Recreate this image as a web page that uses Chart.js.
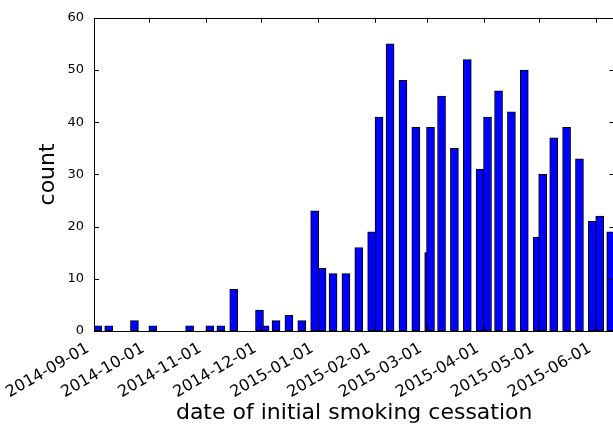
<!DOCTYPE html>
<html>
<head>
<meta charset="utf-8">
<script src="https://cdn.jsdelivr.net/npm/chart.js@4.4.1/dist/chart.umd.min.js"></script>
<style>
    html, body { margin: 0; padding: 0; overflow: hidden; background: #fff; }
    #wrap { width: 616px; height: 424px; position: relative; }
</style>
</head>
<body>
<div id="wrap"><canvas id="chart" width="616" height="424"></canvas></div>
<script>
// ── data: one bar per bin (1st, 7th, 14th, 21st, 28th) ──
const binDates = [
    '2014-09-01','2014-09-07','2014-09-21',
    '2014-10-01','2014-10-21',
    '2014-11-01','2014-11-07','2014-11-14','2014-11-28',
    '2014-12-01','2014-12-07','2014-12-14','2014-12-21','2014-12-28',
    '2015-01-01','2015-01-07','2015-01-14','2015-01-21','2015-01-28',
    '2015-02-01','2015-02-07','2015-02-14','2015-02-21','2015-02-28',
    '2015-03-01','2015-03-07','2015-03-14','2015-03-21','2015-03-28',
    '2015-04-01','2015-04-07','2015-04-14','2015-04-21','2015-04-28',
    '2015-05-01','2015-05-07','2015-05-14','2015-05-21','2015-05-28',
    '2015-06-01','2015-06-07'
];
const counts = [
    1, 1, 2,
    1, 1,
    1, 1, 8, 4,
    1, 2, 3, 2, 23,
    12, 11, 11, 16, 19,
    41, 55, 48, 39, 15,
    39, 45, 35, 52, 31,
    41, 46, 42, 50, 18,
    30, 37, 39, 33, 21,
    22, 19
];
const tickDates = [
    '2014-09-01','2014-10-01','2014-11-01','2014-12-01',
    '2015-01-01','2015-02-01','2015-03-01','2015-04-01','2015-05-01','2015-06-01'
];
const yTicks = [0, 10, 20, 30, 40, 50, 60];

const ORIGIN   = Date.UTC(2014, 8, 1);
const BIN_DAYS = 4;      // bar spans 4 days from its start date
const X_MAX    = 283;    // axis ends just after the last bar

function dayOf(s) {
    const [y, m, d] = s.split('-').map(Number);
    return (Date.UTC(y, m - 1, d) - ORIGIN) / 86400000;
}

const points    = binDates.map((d, i) => ({ x: dayOf(d) + BIN_DAYS / 2, y: counts[i] }));
const tickDays  = tickDates.map(dayOf);
const tickLabel = {};
tickDates.forEach(d => { tickLabel[dayOf(d)] = d; });

// ── classic matplotlib frame with inward ticks on all four sides ──
const framePlugin = {
    id: 'frame',
    afterDatasetsDraw(chart) {
        const { ctx, chartArea: a, scales } = chart;
        const L = 5;
        ctx.save();
        ctx.strokeStyle = '#000';
        ctx.lineWidth = 1;
        ctx.beginPath();
        scales.y.ticks.forEach(t => {
            const py = Math.round(scales.y.getPixelForValue(t.value)) + 0.5;
            ctx.moveTo(a.left, py);  ctx.lineTo(a.left + L, py);
            ctx.moveTo(a.right, py); ctx.lineTo(a.right - L, py);
        });
        scales.x.ticks.forEach(t => {
            const px = Math.round(scales.x.getPixelForValue(t.value)) + 0.5;
            ctx.moveTo(px, a.top);    ctx.lineTo(px, a.top + L);
            ctx.moveTo(px, a.bottom); ctx.lineTo(px, a.bottom - L);
        });
        ctx.stroke();
        ctx.strokeRect(Math.round(a.left) + 0.5, Math.round(a.top) + 0.5,
                       Math.round(a.right - a.left), Math.round(a.bottom - a.top));
        ctx.restore();
    }
};

const FONT = "'DejaVu Sans', sans-serif";

new Chart(document.getElementById('chart'), {
    type: 'bar',
    data: {
        datasets: [{
            data           : points,
            backgroundColor: '#0000ff',
            borderColor    : '#000000',
            borderWidth    : 1,
            borderSkipped  : false,
            barThickness   : 8
        }]
    },
    options: {
        responsive : false,
        animation  : false,
        layout     : { padding: { top: 17, right: 1.6, bottom: 0, left: 0 } },
        plugins: {
            legend : { display: false },
            tooltip: { enabled: false }
        },
        scales: {
            x: {
                type  : 'linear',
                offset: false,
                min   : 0,
                max   : X_MAX,
                grid  : { display: false, drawTicks: false, offset: false },
                border: { display: false },
                afterBuildTicks: s => { s.ticks = tickDays.map(v => ({ value: v })); },
                afterFit: s => { s.height = 93; },
                ticks: {
                    autoSkip   : false,
                    maxRotation: 30,
                    minRotation: 30,
                    padding    : 8,
                    labelOffset: -6,
                    color      : '#000',
                    font       : { family: FONT, size: 16 },
                    callback   : v => tickLabel[v] || ''
                },
                title: {
                    display: true,
                    text   : 'date of initial smoking cessation',
                    color  : '#000',
                    font   : { family: FONT, size: 22, lineHeight: 1 },
                    padding: { top: 0, bottom: 0 }
                }
            },
            y: {
                min   : 0,
                max   : 60,
                grid  : { display: false, drawTicks: false },
                border: { display: false },
                afterBuildTicks: s => { s.ticks = yTicks.map(v => ({ value: v })); },
                afterFit: s => { s.width = 94; },
                ticks: {
                    padding: 10,
                    color  : '#000',
                    font   : { family: FONT, size: 13 }
                },
                title: {
                    display: true,
                    text   : 'count',
                    color  : '#000',
                    font   : { family: FONT, size: 22, lineHeight: 1 },
                    padding: { top: 37, bottom: 0 }
                }
            }
        }
    },
    plugins: [framePlugin]
});
</script>
</body>
</html>
